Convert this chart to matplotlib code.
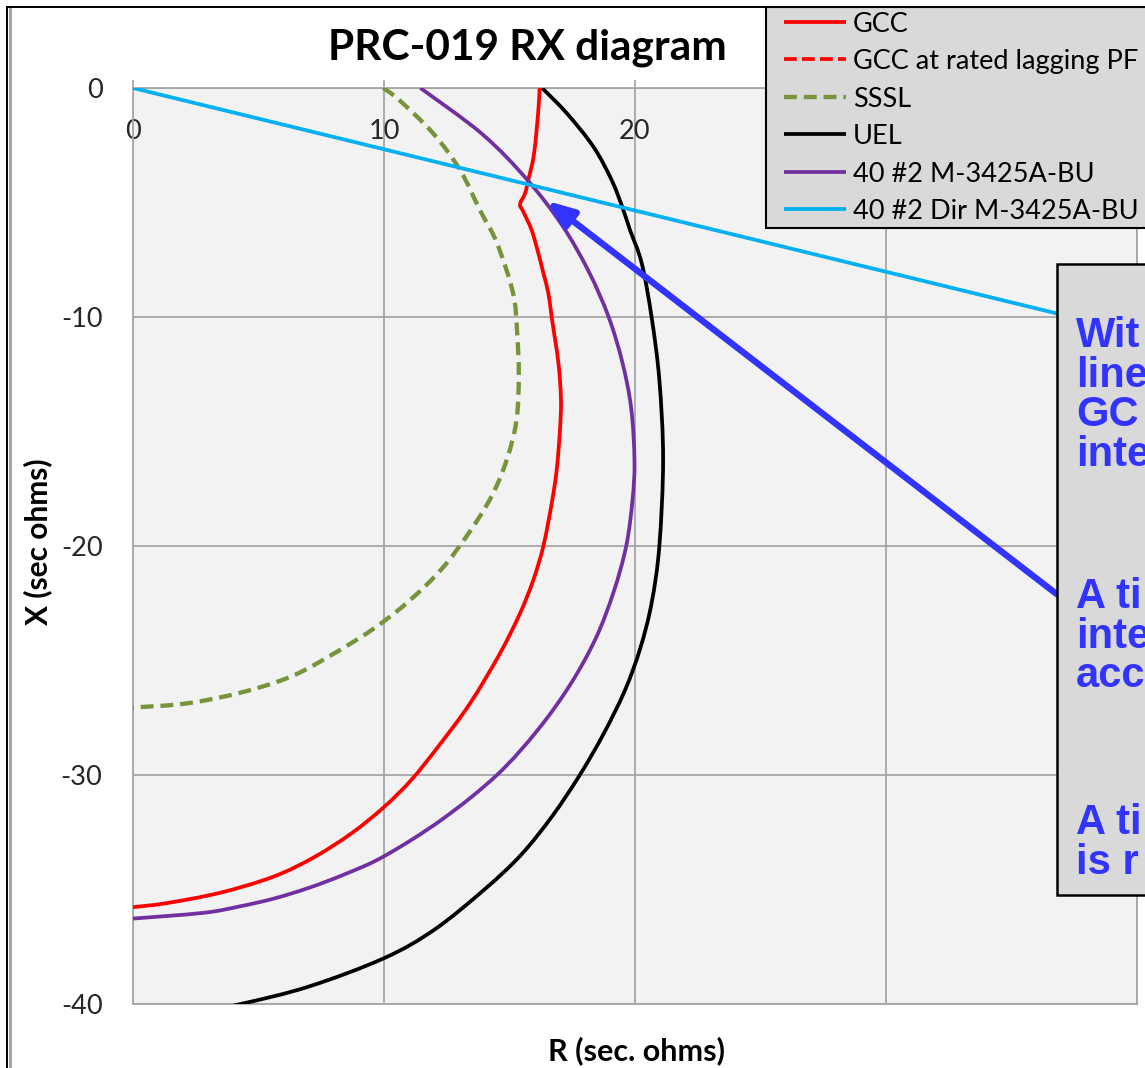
import matplotlib
matplotlib.use("Agg")
import matplotlib.pyplot as plt
from matplotlib.lines import Line2D
from matplotlib.patches import Rectangle, PathPatch
from matplotlib.path import Path

plt.rcParams["axes.unicode_minus"] = False

# --- series (R, X) in secondary ohms ---
gcc_r = [16.2, 16.15, 15.98, 15.75, 15.62, 15.42, 15.55, 15.88, 16.15, 16.35, 16.55,
         16.68, 16.95, 17.05, 17.01, 16.88, 16.68, 16.35, 15.95, 15.42, 14.62, 13.43,
         12.2, 11.1, 10.0, 8.7, 7.2, 5.57, 3.44, 1.31, 0.0]
gcc_x = [0.0, -0.96, -2.85, -4.02, -4.6, -5.08, -5.4, -6.2, -7.22, -8.09, -8.97,
         -10.0, -12.02, -13.62, -14.93, -16.68, -18.14, -20.0, -21.48, -22.94, -24.69, -26.87,
         -28.7, -30.2, -31.4, -32.55, -33.6, -34.45, -35.15, -35.6, -35.77]

gcc_pf_r = []
gcc_pf_x = []

sssl_r = [9.97, 10.6, 11.95, 13.03, 13.82, 14.5, 15.14, 15.3, 15.37, 15.28, 14.9,
          14.3, 13.4, 12.3, 11.0, 9.6, 8.0, 6.3, 4.3, 2.1, 0.0]
sssl_x = [0.0, -0.52, -1.97, -3.58, -5.33, -6.77, -8.95, -10.6, -12.5, -14.5, -16.2,
          -17.8, -19.4, -21.0, -22.4, -23.6, -24.7, -25.7, -26.4, -26.88, -27.05]

uel_r = [16.3, 17.28, 18.34, 19.07, 19.51, 19.8, 20.27, 20.66, 20.97, 21.12,
         20.97, 20.66, 20.2, 19.6, 18.75, 17.8, 16.7, 15.45, 14.0, 12.0, 10.0,
         7.0, 4.29, 2.0, 0.0]
uel_x = [0.0, -1.1, -2.56, -4.02, -5.25, -6.2, -7.66, -10.0, -12.75, -16.2,
         -20.0, -22.5, -24.5, -26.3, -28.2, -30.0, -31.8, -33.5, -35.0, -36.76, -38.0,
         -39.24, -40.0, -40.5, -40.8]

mho_r = [11.45, 13.9, 15.7, 17.1, 18.15, 18.95, 19.5, 19.85, 19.98, 19.9, 19.65,
         19.15, 18.45, 17.45, 16.15, 14.5, 12.3, 10.0, 8.4, 7.0, 5.6, 4.2, 2.8, 0.0]
mho_x = [0.0, -2.0, -4.0, -6.0, -8.0, -10.0, -12.0, -14.0, -16.3, -18.0, -20.0,
         -22.0, -24.0, -26.0, -28.0, -30.0, -31.95, -33.55, -34.35, -34.93, -35.4, -35.75,
         -36.02, -36.27]

dir_r = [0.0, 40.0]
dir_x = [0.0, -10.7]

series_labels = ["GCC", "GCC at rated lagging PF", "SSSL", "UEL",
                 "40 #2 M-3425A-BU", "40 #2 Dir M-3425A-BU"]

x_ticks = [0, 10, 20, 30, 40]
y_ticks = [0, -10, -20, -30, -40]

note_lines = ["Wit", "line", "GC", "inte", "A ti", "inte", "acc", "A ti", "is r"]


def smooth_path(xs, ys):
    """Smoothed polyline (Catmull-Rom as cubic Bezier segments) through the points."""
    pts = list(zip(xs, ys))
    n = len(pts)
    if n < 3:
        return Path(pts)
    verts = [pts[0]]
    codes = [Path.MOVETO]
    for i in range(n - 1):
        p0 = pts[i - 1] if i > 0 else pts[i]
        p1 = pts[i]
        p2 = pts[i + 1]
        p3 = pts[i + 2] if i + 2 < n else pts[i + 1]
        c1 = (p1[0] + (p2[0] - p0[0]) / 6, p1[1] + (p2[1] - p0[1]) / 6)
        c2 = (p2[0] - (p3[0] - p1[0]) / 6, p2[1] - (p3[1] - p1[1]) / 6)
        verts += [c1, c2, p2]
        codes += [Path.CURVE4] * 3
    return Path(verts, codes)


# --- figure ---
W, H = 1145, 1068
fig = plt.figure(figsize=(W / 100, H / 100), dpi=100)
fig.patch.set_facecolor("white")


def fx(px):
    return px / W


def fy(py):
    return 1 - py / H


ax = fig.add_axes([fx(133), fy(1004), fx(1137) - fx(133), fy(88) - fy(1004)])
ax.set_facecolor("#f2f2f2")
ax.set_xlim(0, 40)
ax.set_ylim(-40, 0)

grid_c = "#a6a6a6"
ax.set_xticks(x_ticks)
ax.set_yticks(y_ticks)
ax.grid(True, color=grid_c, lw=1.3, zorder=0)
ax.set_axisbelow(True)
for s in ax.spines.values():
    s.set_color(grid_c)
    s.set_linewidth(1.3)

ax.tick_params(axis="x", top=True, bottom=False, labeltop=True, labelbottom=False,
               direction="out", length=6, width=1.3, color=grid_c, pad=-46)
ax.tick_params(axis="y", left=False, length=0, pad=22)
for lab in ax.get_xticklabels() + ax.get_yticklabels():
    lab.set_fontfamily("Lato")
    lab.set_fontsize(19.5)
    lab.set_color("#262626")

lw = 2.7
green_dash = (0, (3.0, 1.6))
red_dash = (0, (3.4, 1.4))
styles = [
    (gcc_r, gcc_x, dict(color="#ff0000", lw=lw, ls="-")),
    (gcc_pf_r, gcc_pf_x, dict(color="#ff0000", lw=lw, ls=red_dash)),
    (sssl_r, sssl_x, dict(color="#77933c", lw=3.1, ls=green_dash)),
    (uel_r, uel_x, dict(color="#000000", lw=lw, ls="-")),
    (mho_r, mho_x, dict(color="#7030a0", lw=lw, ls="-")),
    (dir_r, dir_x, dict(color="#00b0f0", lw=lw, ls="-")),
]
for rs, xs, st in styles:
    if len(rs) == 0:
        continue
    ax.add_patch(PathPatch(smooth_path(rs, xs), fill=False, edgecolor=st["color"],
                           lw=st["lw"], linestyle=st["ls"], capstyle="butt",
                           joinstyle="round", zorder=3))

# arrow pointing at the GCC / mho / directional crossing
ax.annotate("", xy=(16.49, -4.93), xytext=(36.8, -22.1),
            arrowprops=dict(arrowstyle="-|>,head_length=0.8,head_width=0.32",
                            color="#3333ff", lw=4.6, mutation_scale=20,
                            shrinkA=0, shrinkB=0),
            zorder=6)

# legend panel (top right, runs past the right edge)
fig.add_artist(Rectangle((fx(766), fy(228)), fx(1200) - fx(766), fy(7) - fy(228),
                         transform=fig.transFigure, facecolor="#d9d9d9",
                         edgecolor="black", lw=1.5, zorder=5))
row_y = [22, 59, 97, 134, 172, 209]
for (rs, xs, st), label, yy in zip(styles, series_labels, row_y):
    fig.add_artist(Line2D([fx(784), fx(846)], [fy(yy), fy(yy)], transform=fig.transFigure,
                          color=st["color"], lw=st["lw"], ls=st["ls"],
                          solid_capstyle="butt", dash_capstyle="butt", zorder=6))
    fig.text(fx(853), fy(yy), label, family="Lato", size=19.5, color="black",
             ha="left", va="center_baseline", zorder=7)

# title and axis titles
fig.text(fx(527), fy(48), "PRC-019 RX diagram", family="Lato", weight="bold",
         size=30.5, ha="center", va="center", color="black")
fig.text(fx(38), fy(542), "X (sec ohms)", family="Lato", weight="bold", size=21.5,
         rotation=90, ha="center", va="center", color="black")
fig.text(fx(636), fy(1051), "R (sec. ohms)", family="Lato", weight="bold", size=22,
         ha="center", va="center", color="black")

# note box on the right
fig.add_artist(Rectangle((fx(1057), fy(895)), fx(1200) - fx(1057), fy(264) - fy(895),
                         transform=fig.transFigure, facecolor="#d9d9d9",
                         edgecolor="black", lw=1.8, zorder=20))
baselines = [347, 386.5, 426, 465.5, 608, 647.5, 687, 834, 873.5]
for txt, b in zip(note_lines, baselines):
    fig.text(fx(1076), fy(b), txt, family="Liberation Sans", weight="bold",
             size=30, color="#3333ff", ha="left", va="baseline", zorder=21)

# chart-area border along the left and top
fig.add_artist(Line2D([fx(6.5), fx(6.5)], [fy(7), fy(1068)], transform=fig.transFigure,
                      color="black", lw=1.4))
fig.add_artist(Line2D([fx(6.5), fx(766)], [fy(7), fy(7)], transform=fig.transFigure,
                      color="black", lw=1.4))
fig.add_artist(Line2D([fx(10.5), fx(10.5)], [fy(9), fy(1068)], transform=fig.transFigure,
                      color="#a0a0a0", lw=2.0))

fig.savefig("out.png", dpi=100, facecolor="white")
